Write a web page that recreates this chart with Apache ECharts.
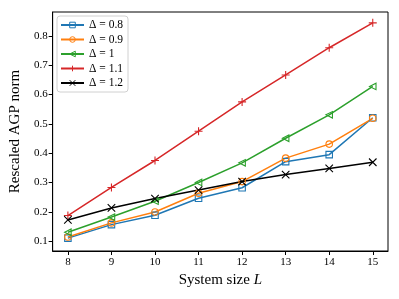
<!DOCTYPE html>
<html>
<head>
<meta charset="utf-8">
<script src="https://cdn.jsdelivr.net/npm/echarts@6/dist/echarts.min.js"></script>
<style>html,body{margin:0;padding:0;background:#fff}#c{width:399px;height:299px}</style>
</head>
<body>
<div id="c"></div>
<script>
var sizes = [8, 9, 10, 11, 12, 13, 14, 15];
var d08 = [0.110, 0.156, 0.188, 0.246, 0.282, 0.371, 0.395, 0.521];
var d09 = [0.114, 0.162, 0.199, 0.263, 0.303, 0.383, 0.431, 0.519];
var d10 = [0.130, 0.182, 0.236, 0.300, 0.367, 0.451, 0.531, 0.628];
var d11 = [0.187, 0.283, 0.375, 0.475, 0.575, 0.667, 0.760, 0.845];
var d12 = [0.172, 0.213, 0.245, 0.274, 0.303, 0.327, 0.348, 0.369];
var names = ['\u0394 = 0.8', '\u0394 = 0.9', '\u0394 = 1', '\u0394 = 1.1', '\u0394 = 1.2'];
var xTicks = [8, 9, 10, 11, 12, 13, 14, 15];
var yTicks = [0.1, 0.2, 0.3, 0.4, 0.5, 0.6, 0.7, 0.8];

var FONT = '"Liberation Serif", "DejaVu Serif", serif';
var PLUS = 'path://M0,5L10,5M5,0L5,10';
var CROSS = 'path://M0,0L10,10M0,10L10,0';

function pts(arr) { return sizes.map(function (s, i) { return [s, arr[i]]; }); }
function mk(name, arr, color, symbol, size, rot) {
  return {
    type: 'line', name: name, data: pts(arr),
    symbol: symbol, symbolSize: size, symbolRotate: rot || 0,
    showAllSymbol: true,
    lineStyle: { color: color, width: 1.5 },
    itemStyle: { color: 'rgba(255,255,255,0)', borderColor: color, borderWidth: 1.1 },
    emphasis: { disabled: true },
    animation: false
  };
}

var chart = echarts.init(document.getElementById('c'), null, { renderer: 'canvas' });
chart.setOption({
  animation: false,
  grid: { left: 52, right: 11, top: 12, bottom: 48, show: true, borderColor: '#000', borderWidth: 1, backgroundColor: 'transparent' },
  legend: {
    orient: 'vertical', left: 57, top: 16,
    padding: [3, 5, 3, 3],
    itemWidth: 23, itemHeight: 7, itemGap: 2.5,
    backgroundColor: '#fff', borderColor: '#d0d0d0', borderWidth: 1, borderRadius: 3,
    itemStyle: { color: 'rgba(255,255,255,0)', borderWidth: 1 },
    textStyle: { fontFamily: FONT, fontSize: 11.5, lineHeight: 12, color: '#000' },
    data: names
  },
  xAxis: {
    type: 'value', min: 7.65, max: 15.35,
    name: 'System size {i|L}', nameLocation: 'middle', nameGap: 20,
    nameTextStyle: { fontFamily: FONT, fontSize: 15, color: '#000',
      rich: { i: { fontFamily: FONT, fontSize: 15, fontStyle: 'italic', color: '#000' } } },
    axisLine: { show: true, onZero: false, lineStyle: { color: '#000', width: 1 } },
    axisTick: { show: true, length: 4, lineStyle: { color: '#000' }, customValues: xTicks },
    axisLabel: { fontFamily: FONT, fontSize: 11, color: '#000', margin: 6, customValues: xTicks },
    splitLine: { show: false }
  },
  yAxis: {
    type: 'value', min: 0.066, max: 0.882,
    name: 'Rescaled AGP norm', nameLocation: 'middle', nameGap: 29,
    nameTextStyle: { fontFamily: FONT, fontSize: 15, color: '#000' },
    axisLine: { show: true, onZero: false, lineStyle: { color: '#000', width: 1 } },
    axisTick: { show: true, length: 4, lineStyle: { color: '#000' }, customValues: yTicks },
    axisLabel: { fontFamily: FONT, fontSize: 11, color: '#000', margin: 5, customValues: yTicks,
      formatter: function (v) { return v.toFixed(1); } },
    splitLine: { show: false }
  },
  series: [
    mk(names[0], d08, '#1f77b4', 'rect', 6.5),
    mk(names[1], d09, '#ff7f0e', 'circle', 6.5),
    mk(names[2], d10, '#2ca02c', 'triangle', 6.5, 90),
    mk(names[3], d11, '#d62728', PLUS, 8),
    mk(names[4], d12, '#000000', CROSS, 7.5)
  ]
});
</script>
</body>
</html>
